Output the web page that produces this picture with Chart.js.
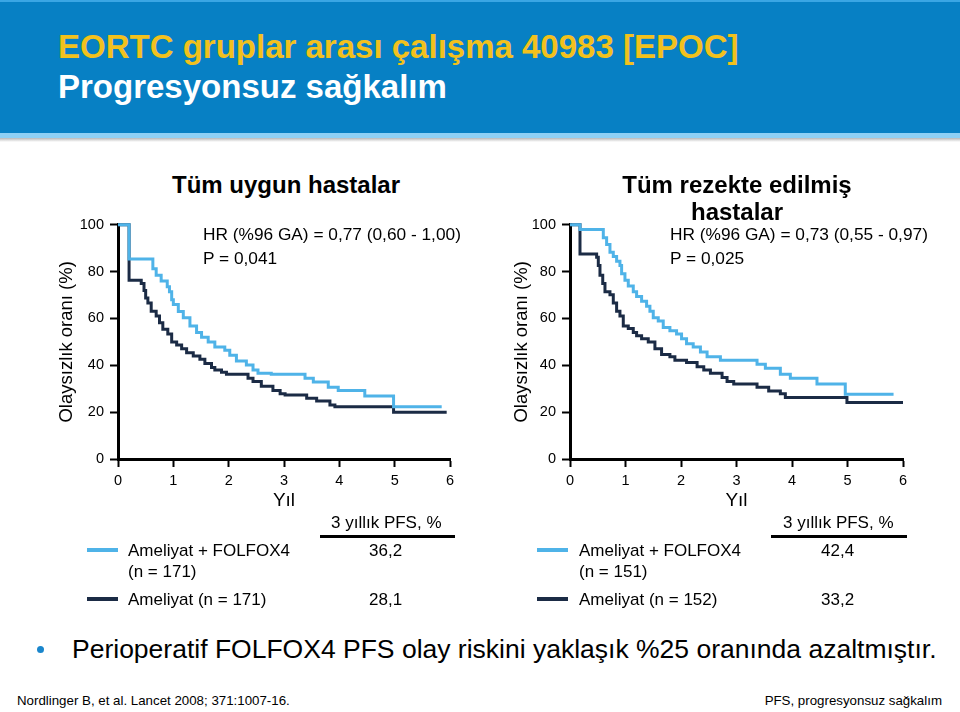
<!DOCTYPE html>
<html>
<head>
<meta charset="utf-8">
<script src="https://cdn.jsdelivr.net/npm/chart.js@4"></script>
<style>
  body { margin: 0; width: 960px; height: 712px; background: #fff; font-family: "Liberation Sans", Arial, sans-serif; position: relative; overflow: hidden; }
  .abs { position: absolute; white-space: nowrap; }
  #header { position: absolute; left: 0; top: 0; width: 960px; height: 133px; background: #0780c4; border-top: 2px solid #3aa6e4; box-sizing: border-box; }
  #stripe { position: absolute; left: 0; top: 133px; width: 960px; height: 5px; background: #8ed0f5; }
  #shadow { position: absolute; left: 0; top: 138px; width: 960px; height: 4px; background: linear-gradient(#b8b8b8, #fff); }
  canvas { position: absolute; }
</style>
</head>
<body>
<div id="header"></div>
<div id="stripe"></div>
<div id="shadow"></div>
<div class="abs" style="left:58px; top:28px; font-size:33px; font-weight:bold; color:#f2c11d; line-height:38px;">EORTC gruplar arası çalışma 40983 [EPOC]</div>
<div class="abs" style="left:58px; top:68px; font-size:33px; font-weight:bold; color:#fff; line-height:38px;">Progresyonsuz sağkalım</div>

<div id="wrapL" style="position:absolute; left:53px; top:210px; width:407px; height:305px;"><canvas id="chartL"></canvas></div>
<div id="wrapR" style="position:absolute; left:508px; top:210px; width:405px; height:305px;"><canvas id="chartR"></canvas></div>

<div class="abs" style="left:172px; top:171px; font-size:24px; font-weight:bold; color:#000; line-height:28px;">Tüm uygun hastalar</div>
<div class="abs" style="left:203px; top:222px; font-size:17.3px; color:#000; line-height:24px;">HR (%96 GA) = 0,77 (0,60 - 1,00)<br>P = 0,041</div>

<div class="abs" style="left:612px; top:171px; width:250px; text-align:center; font-size:24px; font-weight:bold; color:#000; line-height:27px; white-space:normal;">Tüm rezekte edilmiş<br>hastalar</div>
<div class="abs" style="left:670px; top:222px; font-size:17.3px; color:#000; line-height:24px;">HR (%96 GA) = 0,73 (0,55 - 0,97)<br>P = 0,025</div>

<!-- legend tables -->
<div class="abs" style="left:331px; top:513px; font-size:17px;">3 yıllık PFS, %</div>
<div class="abs" style="left:320px; top:535px; width:135px; height:3px; background:#000;"></div>
<div class="abs" style="left:87px; top:548px; width:31px; height:4px; background:#4fb3e8;"></div>
<div class="abs" style="left:128px; top:540px; font-size:17px; line-height:21px;">Ameliyat + FOLFOX4<br>(n = 171)</div>
<div class="abs" style="left:369px; top:540px; font-size:17px; line-height:21px;">36,2</div>
<div class="abs" style="left:87px; top:597px; width:31px; height:4px; background:#1b2b45;"></div>
<div class="abs" style="left:128px; top:589px; font-size:17px; line-height:21px;">Ameliyat (n = 171)</div>
<div class="abs" style="left:369px; top:589px; font-size:17px; line-height:21px;">28,1</div>

<div class="abs" style="left:783px; top:513px; font-size:17px;">3 yıllık PFS, %</div>
<div class="abs" style="left:771px; top:535px; width:136px; height:3px; background:#000;"></div>
<div class="abs" style="left:537px; top:548px; width:31px; height:4px; background:#4fb3e8;"></div>
<div class="abs" style="left:579px; top:540px; font-size:17px; line-height:21px;">Ameliyat + FOLFOX4<br>(n = 151)</div>
<div class="abs" style="left:821px; top:540px; font-size:17px; line-height:21px;">42,4</div>
<div class="abs" style="left:537px; top:597px; width:31px; height:4px; background:#1b2b45;"></div>
<div class="abs" style="left:579px; top:589px; font-size:17px; line-height:21px;">Ameliyat (n = 152)</div>
<div class="abs" style="left:821px; top:589px; font-size:17px; line-height:21px;">33,2</div>

<div class="abs" style="left:37px; top:646px; width:7px; height:7px; border-radius:50%; background:#1a86cc;"></div>
<div class="abs" style="left:72px; top:634px; font-size:26.5px; color:#000; line-height:31px;">Perioperatif FOLFOX4 PFS olay riskini yaklaşık %25 oranında azaltmıştır.</div>
<div class="abs" style="left:17px; top:693px; font-size:13.3px; color:#000;">Nordlinger B, et al. Lancet 2008; 371:1007-16.</div>
<div class="abs" style="right:18px; top:693px; font-size:13.3px; color:#000;">PFS, progresyonsuz sağkalım</div>

<script>
// Kaplan-Meier steps: time (yıl) at which the curve drops, new PFS (%) value
const xTicks = [0, 1, 2, 3, 4, 5, 6];
const yTicks = [0, 20, 40, 60, 80, 100];

// Tüm uygun hastalar
const allFolfoxT = [0, 0.2, 0.63, 0.69, 0.78, 0.89, 0.93, 0.97, 1.0, 1.09, 1.18, 1.30, 1.42, 1.51, 1.63, 1.75, 1.93, 2.02, 2.14, 2.32, 2.44, 2.53, 2.77, 3.38, 3.53, 3.80, 3.98, 4.46, 4.98, 5.85];
const allFolfoxV = [100, 85.4, 81.2, 78.4, 76, 73.5, 71.4, 68, 65.9, 63, 60.3, 56.8, 54, 52, 49.9, 47.8, 46.4, 44.3, 41.8, 40.1, 38, 36.6, 36.2, 34.5, 32.9, 30.6, 29.2, 26.9, 22.3, 22.3];
const allSurgT = [0, 0.2, 0.42, 0.47, 0.50, 0.54, 0.60, 0.69, 0.75, 0.81, 0.90, 0.97, 1.06, 1.15, 1.24, 1.36, 1.48, 1.57, 1.69, 1.75, 1.87, 1.96, 2.35, 2.44, 2.59, 2.80, 2.93, 3.02, 3.41, 3.59, 3.83, 3.92, 4.98, 5.94];
const allSurgV = [100, 76.3, 74.9, 71.9, 68.7, 66.6, 63.1, 61, 58.2, 55.4, 53.3, 49.9, 48.7, 47.1, 45.4, 44, 42.6, 40.8, 39.1, 38, 37, 36.2, 34.5, 33.1, 31, 29.2, 27.9, 27.3, 25.9, 24.8, 23.1, 22.3, 19.9, 19.9];

// Tüm rezekte edilmiş hastalar
const resFolfoxT = [0, 0.18, 0.60, 0.66, 0.72, 0.78, 0.84, 0.90, 0.93, 0.99, 1.05, 1.14, 1.20, 1.29, 1.38, 1.44, 1.50, 1.59, 1.68, 1.80, 1.92, 2.01, 2.10, 2.22, 2.35, 2.47, 2.71, 3.37, 3.52, 3.79, 3.97, 4.45, 4.96, 5.83];
const resFolfoxV = [100, 97.9, 94.4, 91.6, 88.2, 86.4, 84.4, 82.6, 79.1, 76.3, 73.8, 71.4, 69.4, 67.3, 65.2, 63.1, 60.3, 58.9, 56.1, 54.7, 53.3, 51.3, 49.2, 47.8, 45.7, 43.6, 42.2, 40.4, 38.7, 36.2, 34.5, 32, 27.6, 27.6];
const resSurgT = [0, 0.18, 0.48, 0.51, 0.54, 0.59, 0.63, 0.72, 0.78, 0.84, 0.90, 0.96, 1.05, 1.14, 1.20, 1.29, 1.41, 1.53, 1.65, 1.80, 1.89, 2.10, 2.29, 2.41, 2.53, 2.74, 2.83, 2.95, 3.37, 3.58, 3.79, 3.88, 4.99, 6.0];
const resSurgV = [100, 87.5, 86.1, 82.6, 78.4, 74.9, 71.4, 70.1, 66.6, 63.1, 61, 56.8, 55.7, 54, 52.6, 51.3, 49.9, 47.1, 44.6, 43.6, 42.2, 41.2, 39.4, 38, 36.6, 34.8, 33.1, 32, 30.6, 29, 27.9, 26.2, 24.1, 24.1];

const lightBlue = '#4fb3e8';
const darkNavy = '#1b2b45';

function toPoints(t, v) {
    return t.map((x, i) => ({ x: x, y: v[i] }));
}

function makeKM(id, folfoxT, folfoxV, surgT, surgV, yWidth) {
    const ctx = document.getElementById(id).getContext('2d');
    return new Chart(ctx, {
        type: 'line',
        data: {
            datasets: [{
                label: 'Ameliyat + FOLFOX4',
                data: toPoints(folfoxT, folfoxV),
                borderColor: lightBlue,
                borderWidth: 3,
                pointRadius: 0,
                stepped: 'before',
                clip: 4
            }, {
                label: 'Ameliyat',
                data: toPoints(surgT, surgV),
                borderColor: darkNavy,
                borderWidth: 3,
                pointRadius: 0,
                stepped: 'before',
                clip: 4
            }]
        },
        options: {
            responsive: true,
            maintainAspectRatio: false,
            animation: false,
            layout: { padding: { top: 10, right: 10, left: 0, bottom: 0 } },
            plugins: { legend: { display: false }, tooltip: { enabled: false } },
            scales: {
                x: {
                    type: 'linear',
                    min: 0,
                    max: 6,
                    afterBuildTicks: s => { s.ticks = xTicks.map(v => ({ value: v })); },
                    afterFit: s => { s.height = 56; },
                    border: { display: true, color: '#000', width: 3 },
                    grid: { display: true, drawOnChartArea: false, drawTicks: true, tickLength: 8, tickWidth: 2, tickColor: '#000' },
                    ticks: { color: '#000', padding: 5, font: { size: 14.5, family: 'Liberation Sans' }, maxRotation: 0 },
                    title: { display: true, text: 'Yıl', color: '#000', font: { size: 19, family: 'Liberation Sans' }, padding: { top: 0, bottom: 3 } }
                },
                y: {
                    min: 0,
                    max: 100,
                    afterBuildTicks: s => { s.ticks = yTicks.map(v => ({ value: v })); },
                    afterFit: s => { s.width = yWidth; },
                    border: { display: true, color: '#000', width: 3 },
                    grid: { display: true, drawOnChartArea: false, drawTicks: true, tickLength: 8, tickWidth: 2, tickColor: '#000' },
                    ticks: { color: '#000', padding: 6, font: { size: 14.5, family: 'Liberation Sans' } },
                    title: { display: true, text: 'Olaysızlık oranı (%)', color: '#000', font: { size: 18.5, family: 'Liberation Sans' }, padding: { top: 3, bottom: 0 } }
                }
            }
        }
    });
}

makeKM('chartL', allFolfoxT, allFolfoxV, allSurgT, allSurgV, 65);
makeKM('chartR', resFolfoxT, resFolfoxV, resSurgT, resSurgV, 62);
</script>
</body>
</html>
